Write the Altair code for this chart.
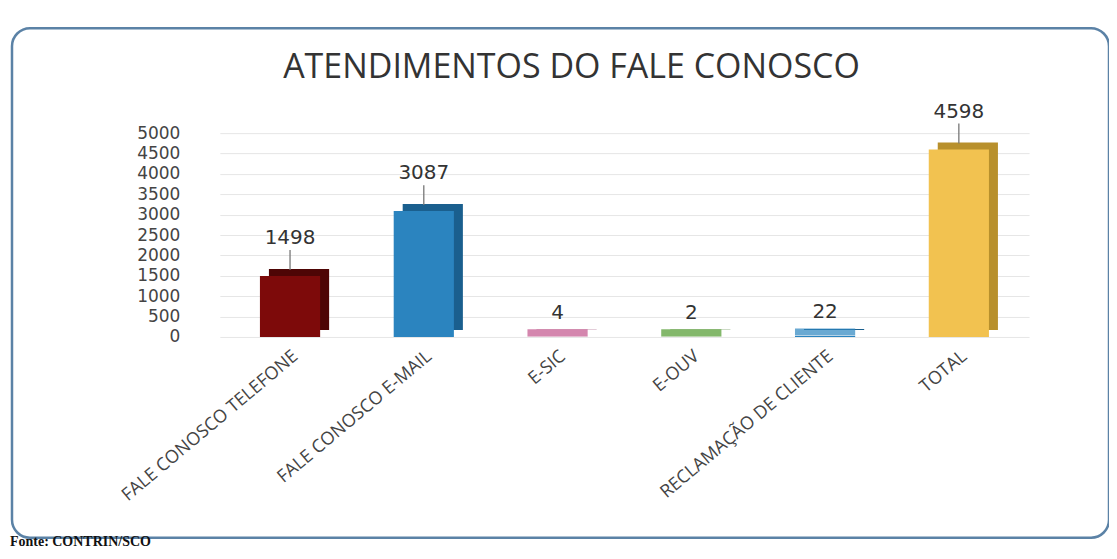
import altair as alt
import pandas as pd

categories = ["FALE CONOSCO TELEFONE", "FALE CONOSCO E-MAIL", "E-SIC", "E-OUV",
              "RECLAMAÇÃO DE CLIENTE", "TOTAL"]
values = [1498, 3087, 4, 2, 22, 4598]
colors = ["#7d0a0a", "#2b84bf", "#c2528c", "#4f9a2c", "#2b84bf", "#f2c250"]
side_colors = ["#4e0505", "#1a5f8e", "#8e3564", "#356e1a", "#1a5f8e", "#b8902c"]
y_ticks = [0, 500, 1000, 1500, 2000, 2500, 3000, 3500, 4000, 4500, 5000]
title_text = "ATENDIMENTOS DO FALE CONOSCO"
source_text = "Fonte: CONTRIN/SCO"

df = pd.DataFrame({"cat": categories, "value": values,
                   "color": colors, "side": side_colors})

x_enc = alt.X("cat:N", sort=categories, title=None,
              scale=alt.Scale(paddingInner=0.55, paddingOuter=0.3),
              axis=alt.Axis(labelAngle=-40, labelFontSize=18, labelColor="#444",
                            labelFont="Open Sans", domain=False, ticks=False,
                            labelPadding=10, labelLimit=400))
y_axis = alt.Axis(values=y_ticks, format="d", labelFontSize=17,
                  labelColor="#444", labelFont="DejaVu Sans",
                  labelOverlap=False, domain=False, ticks=False,
                  labelPadding=40, gridColor="#e6e6e6", labelFlush=False)
y_scale = alt.Scale(domain=[0, 5000], nice=False)
y_enc = alt.Y("value:Q", title=None, scale=y_scale, axis=y_axis)

base = alt.Chart(df)

side = base.mark_bar(xOffset=9, yOffset=-7).encode(
    x=x_enc, y=y_enc, color=alt.Color("side:N", scale=None))
bars = base.mark_bar().encode(
    x=x_enc, y=y_enc, color=alt.Color("color:N", scale=None))
slabs = base.transform_filter("datum.value <= 100").mark_tick(
    thickness=7, yOffset=-4).encode(
    x=x_enc, y=y_enc, color=alt.Color("color:N", scale=None))

leaders = base.transform_filter("datum.value > 100").mark_rule(
    color="#777", strokeWidth=1.3, yOffset=-6, y2Offset=-26).encode(
    x=x_enc, y=y_enc, y2="value:Q")

big_labels = base.transform_filter("datum.value > 100").mark_text(
    baseline="bottom", dy=-28, fontSize=20, color="#333", font="DejaVu Sans").encode(
    x=x_enc, y=y_enc, text="value:Q")
small_labels = base.transform_filter("datum.value <= 100").mark_text(
    baseline="bottom", dy=-14, fontSize=20, color="#333", font="DejaVu Sans").encode(
    x=x_enc, y=y_enc, text="value:Q")

frame = alt.Chart(pd.DataFrame({"a": [0]})).mark_rect(
    fill=None, stroke="#5b82a6", strokeWidth=2.5, cornerRadius=18, clip=False).encode(
    x=alt.value(-208), x2=alt.value(890), y=alt.value(-105), y2=alt.value(405))

title = alt.Chart(pd.DataFrame({"t": [title_text]})).mark_text(
    fontSize=34, font="Open Sans", color="#333", align="center", baseline="middle").encode(
    x=alt.value(352), y=alt.value(-65), text="t:N")

source = alt.Chart(pd.DataFrame({"t": [source_text]})).mark_text(
    fontSize=14, font="Liberation Serif", fontWeight="bold", color="#111",
    align="left", baseline="bottom").encode(
    x=alt.value(-210), y=alt.value(416), text="t:N")

chart = alt.layer(frame, side, bars, slabs, leaders, big_labels, small_labels,
                  title, source).properties(
    width=810, height=204,
    autosize=alt.AutoSizeParams(type="none"),
    padding={"left": 212, "top": 125, "right": 80, "bottom": 212},
    background="white",
).configure_view(stroke=None)

chart.save("out.html", embed_options={"renderer": "svg", "actions": False})
